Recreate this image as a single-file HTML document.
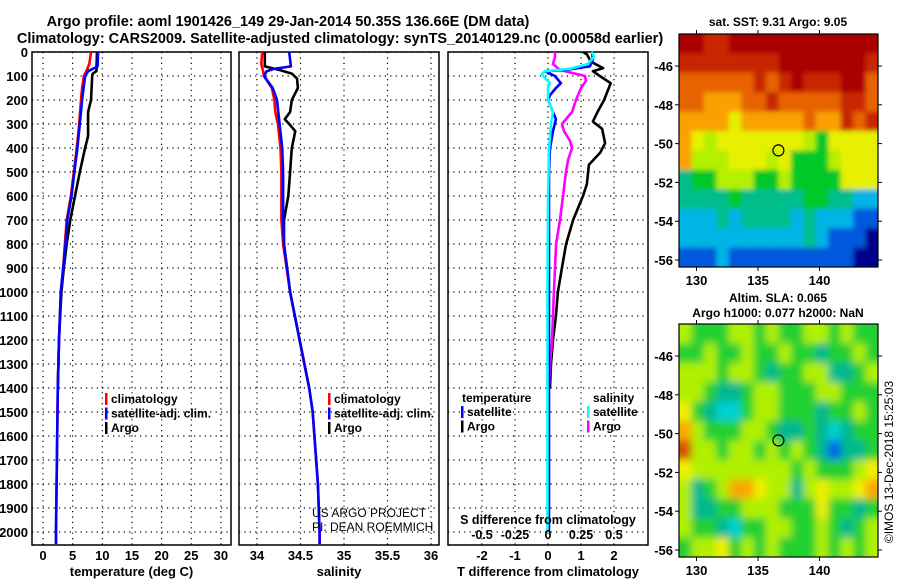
<!DOCTYPE html>
<html><head><meta charset="utf-8"><style>
body{margin:0;background:#fff}
svg{display:block;font-family:"Liberation Sans",sans-serif}
text{font-weight:bold;fill:#000}
</style></head><body>
<svg id="fig" width="900" height="580" viewBox="0 0 900 580" xmlns="http://www.w3.org/2000/svg">
<text x="288" y="26" font-size="14.5" text-anchor="middle">Argo profile: aoml 1901426_149 29-Jan-2014 50.35S 136.66E (DM data)</text>
<text x="340" y="43" font-size="14.5" text-anchor="middle">Climatology: CARS2009. Satellite-adjusted climatology: synTS_20140129.nc (0.00058d earlier)</text>
<g id="panels"></g>
<g id="maps"></g>
<text transform="translate(893,462) rotate(-90)" font-size="12" style="font-weight:normal" text-anchor="middle">©IMOS 13-Dec-2018 15:25:03</text>
</svg>
<script>
// ---- profile data (depth in m) ----
const climDepth = [0,50,80,100,150,200,300,400,500,600,700,800,900,1000,1200,1400,1600,1800,2000,2050];
const climTemp  = [8.1,7.8,7.3,6.9,6.6,6.4,6.1,5.7,5.2,4.7,4.0,3.7,3.4,3.0,2.7,2.5,2.4,2.3,2.2,2.2];
const satDepth  = [0,60,70,80,100,200,300,400,500,600,700,800,900,1000,1200,1400,1600,1800,2000,2050];
const satTemp   = [9.3,9.2,8.4,7.6,7.1,6.6,6.2,5.8,5.3,4.8,4.1,3.8,3.4,3.0,2.7,2.5,2.4,2.3,2.2,2.2];
const argoDepth = [0,80,90,100,200,250,300,350,400,500,600,700,800,900,1000,1200,1400];
const argoTemp  = [9.1,9.0,8.4,8.3,8.1,7.6,7.6,7.6,7.1,6.2,5.4,4.6,4.0,3.5,3.1,2.7,2.5];

const climSalDepth = [0,50,80,100,150,200,250,300,400,500,600,700,800,1000,1200,1400,1500,1800,2000,2050];
const climSal      = [34.06,34.05,34.07,34.08,34.17,34.2,34.21,34.24,34.27,34.28,34.28,34.28,34.30,34.38,34.49,34.6,34.64,34.7,34.72,34.72];
const satSalDepth  = [0,60,70,80,100,150,200,300,400,500,700,800,1000,1200,1400,1500,1800,2000,2050];
const satSal       = [34.37,34.39,34.2,34.11,34.08,34.18,34.23,34.26,34.29,34.3,34.3,34.31,34.38,34.49,34.6,34.64,34.7,34.72,34.72];
const argoSalDepth = [0,60,75,90,110,150,200,250,280,300,330,400,500,600,700,800,1000,1200,1400];
const argoSal      = [34.09,34.09,34.26,34.40,34.46,34.47,34.40,34.38,34.32,34.37,34.44,34.40,34.38,34.36,34.31,34.31,34.38,34.49,34.6];

const dTArgoDepth = [0,10,40,67,80,100,130,200,250,290,320,380,420,470,550,600,700,800,900,1000,1100,1200,1300,1400];
const dTArgo      = [1.06,1.18,1.3,1.67,1.36,1.57,1.9,1.7,1.5,1.36,1.64,1.73,1.58,1.24,1.18,1.06,0.76,0.55,0.42,0.3,0.24,0.15,0.09,0.06];
const dTSatDepth  = [0,30,60,75,80,100,130,150,180,200,250,280,330,400,500,1000,1500,2000];
const dTSat       = [1.33,1.36,1.27,0.52,-0.09,0.21,0.39,0.24,0.06,0.0,0.15,0.24,0.15,0.06,0.03,0.03,0.03,0.03];
const dSSatDepth  = [0,20,50,70,80,90,100,130,150,200,250,300,400,600,1000,1500,2000];
const dSSat       = [0.33,0.35,0.30,0.167,-0.023,-0.045,-0.038,0.015,0.0,0.0,0.038,0.023,0.008,0.0,-0.004,-0.004,-0.004];
const dSArgoDepth = [0,20,50,75,90,100,120,150,200,250,300,330,370,400,450,500,600,700,800,900,1000,1100,1200,1300,1400];
const dSArgo      = [0.053,0.053,0.038,0.091,0.205,0.28,0.288,0.25,0.212,0.182,0.106,0.121,0.167,0.182,0.152,0.136,0.114,0.091,0.061,0.053,0.045,0.038,0.03,0.015,0.008];

const depthTicks = [0,100,200,300,400,500,600,700,800,900,1000,1100,1200,1300,1400,1500,1600,1700,1800,1900,2000];
const tempTicks = [0,5,10,15,20,25,30];
const salTicks = [34,34.5,35,35.5,36];
const salTickLabels = ["34","34.5","35","35.5","36"];
const dTTicks = [-2,-1,0,1,2];
const dSTicks = [-0.5,-0.25,0,0.25,0.5];
const dSTickLabels = ["-0.5","-0.25","0","0.25","0.5"];

// ---- map data (level indices, rows top->bottom, 16 cols) ----
const sstGrid = [
[9,9,8,8,9,9,9,9,9,9,9,9,9,9,9,9],
[8,8,8,8,8,8,8,8,9,9,9,9,9,9,9,8],
[7,7,7,7,7,7,8,7,8,9,8,8,8,9,9,7],
[7,7,6,6,6,7,7,8,7,7,7,7,7,8,8,7],
[6,6,6,6,5,6,6,6,6,6,7,6,6,8,7,8],
[6,5,4,5,5,5,5,5,5,5,4,3,5,5,5,5],
[6,4,4,4,5,5,5,4,5,3,3,3,4,5,5,5],
[2,3,3,4,4,4,3,3,4,3,3,3,3,5,5,5],
[2,2,2,2,3,2,2,2,2,2,3,3,2,2,1,1],
[1,1,1,2,1,2,2,2,2,1,2,1,1,1,0,0],
[1,1,1,1,1,1,1,1,1,1,2,1,0,0,0,-1],
[0,0,0,1,0,0,0,0,0,0,0,0,0,0,-1,-1]];
const slaGrid = [
[4,3,3,3,4,4,3,4,3,3,4,4,3,4,3,3],
[3,3,4,3,3,4,3,3,4,3,3,2,3,3,4,3],
[4,4,4,3,4,4,3,2,3,3,4,4,2,2,3,4],
[4,4,3,2,2,3,4,4,3,3,3,4,4,3,3,3],
[5,3,2,1,1,3,4,4,3,3,3,2,3,3,4,3],
[6,4,3,3,3,4,4,3,2,2,3,2,1,2,3,3],
[7,4,4,3,4,4,3,4,3,4,3,2,0,2,2,3],
[5,4,4,4,4,4,4,4,4,3,4,3,3,3,4,5],
[4,2,3,4,6,6,5,4,4,2,4,5,4,4,5,6],
[4,2,2,3,3,4,4,4,3,3,3,5,3,3,2,3],
[4,3,3,2,1,3,3,4,4,3,3,4,3,2,3,4],
[3,4,4,5,3,4,3,4,3,3,3,4,3,4,3,4]];
const lonTicks = [130,135,140];
const latTicks = [-46,-48,-50,-52,-54,-56];
const floatLon = 136.66, floatLat = -50.35;

const NS="http://www.w3.org/2000/svg";
function mk(tag, attrs, parent, txt){const e=document.createElementNS(NS,tag);for(const k in attrs)e.setAttribute(k,attrs[k]);if(txt!==undefined)e.textContent=txt;parent.appendChild(e);return e;}
const P=document.getElementById('panels');
const yD = d => 52 + 0.24*d;
const PT=52, PB=545;

function panel(name,x0,x1,xs,ticks,labels,showDepth,title){
  const g=mk('g',{},P);
  
  
  depthTicks.forEach(d=>{
    const l=mk('line',{x1:x0,x2:x1,y1:yD(d),y2:yD(d),stroke:'#000','stroke-width':1.2,'stroke-dasharray':'1.2,4.2'},g);
    
    
    if(showDepth){
      const t=mk('text',{x:28,y:yD(d)+5,'font-size':13,'text-anchor':'end'},g,String(d));
      
      
    }
  });
  ticks.forEach((v,i)=>{
    const x=xs(v);
    const l=mk('line',{x1:x,x2:x,y1:PT,y2:PB,stroke:'#000','stroke-width':1.2,'stroke-dasharray':'1.2,4.2'},g);
    
    
    const t=mk('text',{x:x,y:560,'font-size':13,'text-anchor':'middle'},g,labels[i]);
    
    
  });
  const r=mk('rect',{x:x0,y:PT,width:x1-x0,height:PB-PT,fill:'none',stroke:'#000','stroke-width':1.5},g);
  
  
  const tt=mk('text',{x:(x0+x1)/2,y:576,'font-size':13,'text-anchor':'middle'},g,title);
  
  
  return g;
}
function line(g,name,depths,vals,xs,color){
  const pts=depths.map((d,i)=>xs(vals[i]).toFixed(1)+','+yD(d).toFixed(1)).join(' ');
  const p=mk('polyline',{points:pts,fill:'none',stroke:color,'stroke-width':2.6,'stroke-linejoin':'round'},g);
  
  
}
function legend(g,x,y,items,name){
  const lg=mk('g',{},g);
  
  
  items.forEach((it,i)=>{
    const yy=y+i*14.5;
    if(it[1]) mk('rect',{x:x,y:yy-10,width:2.5,height:12,fill:it[1]},lg);
    const t=mk('text',{x:x+(it[1]?6:0),y:yy,'font-size':12},lg,it[0]);
    
    
  });
}
// panel 1
const xT=v=>43+5.93*v;
const g1=panel('temperature-panel',32,231,xT,tempTicks,tempTicks.map(String),true,'temperature (deg C)');
line(g1,'argo-temperature',argoDepth,argoTemp,xT,'#000');
line(g1,'climatology-temperature',climDepth,climTemp,xT,'#f00');
line(g1,'satellite-temperature',satDepth,satTemp,xT,'#00f');
legend(g1,105,403,[['climatology','#f00'],['satellite-adj. clim.','#00f'],['Argo','#000']],'temperature-legend');
// panel 2
const xS=v=>257+87*(v-34);
const g2=panel('salinity-panel',239,439,xS,salTicks,salTickLabels,false,'salinity');
line(g2,'argo-salinity',argoSalDepth,argoSal,xS,'#000');
line(g2,'climatology-salinity',climSalDepth,climSal,xS,'#f00');
line(g2,'satellite-salinity',satSalDepth,satSal,xS,'#00f');
legend(g2,328,403,[['climatology','#f00'],['satellite-adj. clim.','#00f'],['Argo','#000']],'salinity-legend');
const c1=mk('text',{x:312,y:517,'font-size':12,style:'font-weight:normal'},g2,'US ARGO PROJECT');


const c2=mk('text',{x:312,y:531,'font-size':12,style:'font-weight:normal'},g2,'PI: DEAN ROEMMICH');


// panel 3
const xdT=v=>548+33*v;
const xdS=v=>548+132*v;
const g3=panel('difference-panel',448,648,xdT,dTTicks,dTTicks.map(String),false,'T difference from climatology');
line(g3,'argo-temperature-difference',dTArgoDepth,dTArgo,xdT,'#000');
line(g3,'argo-salinity-difference',dSArgoDepth,dSArgo,xdS,'#f0f');
line(g3,'satellite-temperature-difference',dTSatDepth,dTSat,xdT,'#00f');
line(g3,'satellite-salinity-difference',dSSatDepth,dSSat,xdS,'#0ff');
legend(g3,462,402,[['temperature',null]],'diff-legend-title-t');
legend(g3,461,416,[['satellite','#00f'],['Argo','#000']],'diff-legend-temperature');
legend(g3,593,402,[['salinity',null]],'diff-legend-title-s');
legend(g3,587,416,[['satellite','#0ff'],['Argo','#f0f']],'diff-legend-salinity');
const st=mk('text',{x:548,y:524,'font-size':12.5,'text-anchor':'middle'},g3,'S difference from climatology');


dSTicks.forEach((v,i)=>{
  const t=mk('text',{x:xdS(v),y:539,'font-size':12.5,'text-anchor':'middle'},g3,dSTickLabels[i]);
  
  
});

// ---- maps ----
const pal={'-1':'#00008c','0':'#0058dc','1':'#00b4e6','2':'#00be8c','3':'#00c828','4':'#b4f000','5':'#e6f000','6':'#faa000','7':'#e66400','8':'#c82800','9':'#aa0000'};
const slaPal={'0':'#0060f0','1':'#00d0d0','2':'#00b890','3':'#20d030','4':'#b0f000','5':'#f0f000','6':'#f8a800','7':'#d05000'};
const M=document.getElementById('maps');
const mx0=679,mx1=878;
const lonX=v=>758+12.3*(v-135);
function drawMap(name,top,grid,palette,blur,title1,title2){
  const g=mk('g',{},M);
  
  
  const latY=v=>top+32+19.4*(-46-v);
  const bot=top+233;
  const cid='clip'+top;
  const defs=mk('defs',{},g);
  const cp=mk('clipPath',{id:cid},defs);
  mk('rect',{x:mx0,y:top,width:mx1-mx0,height:bot-top},cp);
  const f=mk('filter',{id:'bl'+top,x:'-10%',y:'-10%',width:'120%',height:'120%'},defs);mk('feGaussianBlur',{stdDeviation:blur},f);
  const cg=mk('g',{'clip-path':'url(#'+cid+')'},g);
  const ig=mk('g',{filter:'url(#bl'+top+')'},cg);
  const rows=grid.length, cols=grid[0].length;
  const cw=(mx1-mx0)/cols, ch=(bot-top)/rows;
  const pad=20;
  grid.forEach((row,r)=>row.forEach((v,c)=>{
    let x=mx0+c*cw, y=top+r*ch, w=cw+0.6, h=ch+0.6;
    if(c===0){x-=pad;w+=pad;} if(c===cols-1){w+=pad;} if(r===0){y-=pad;h+=pad;} if(r===rows-1){h+=pad;}
    const cell=mk('rect',{x:x,y:y,width:w,height:h,fill:palette[String(v)]},ig);
    
    
  }));
  const fr=mk('rect',{x:mx0,y:top,width:mx1-mx0,height:bot-top,fill:'none',stroke:'#000','stroke-width':1.2},g);
  
  
  const mk1=mk('circle',{cx:lonX(floatLon),cy:latY(floatLat),r:5.5,fill:'none',stroke:'#000','stroke-width':1.2},g);
  
  
  lonTicks.forEach(v=>{
    const x=lonX(v);
    mk('line',{x1:x,x2:x,y1:top,y2:top-4,stroke:'#000'},g);
    mk('line',{x1:x,x2:x,y1:bot,y2:bot+4,stroke:'#000'},g);
    const t=mk('text',{x:x,y:bot+18,'font-size':13,'text-anchor':'middle'},g,String(v));
    
    
  });
  latTicks.forEach(v=>{
    const y=latY(v);
    mk('line',{x1:mx0,x2:mx0-4,y1:y,y2:y,stroke:'#000'},g);
    mk('line',{x1:mx1,x2:mx1+4,y1:y,y2:y,stroke:'#000'},g);
    const t=mk('text',{x:673,y:y+5,'font-size':13,'text-anchor':'end'},g,String(v));
    
    
  });
  const t1=mk('text',{x:778,y:title2?top-22:top-8,'font-size':12,'text-anchor':'middle'},g,title1);
  
  
  if(title2){const t2=mk('text',{x:778,y:top-7,'font-size':12,'text-anchor':'middle'},g,title2);
  
  }
}
drawMap('sst-map',34,sstGrid,pal,2.5,'sat. SST: 9.31 Argo: 9.05');
drawMap('sla-map',324,slaGrid,slaPal,4,'Altim. SLA: 0.065','Argo h1000: 0.077 h2000: NaN');
</script>
</body></html>
